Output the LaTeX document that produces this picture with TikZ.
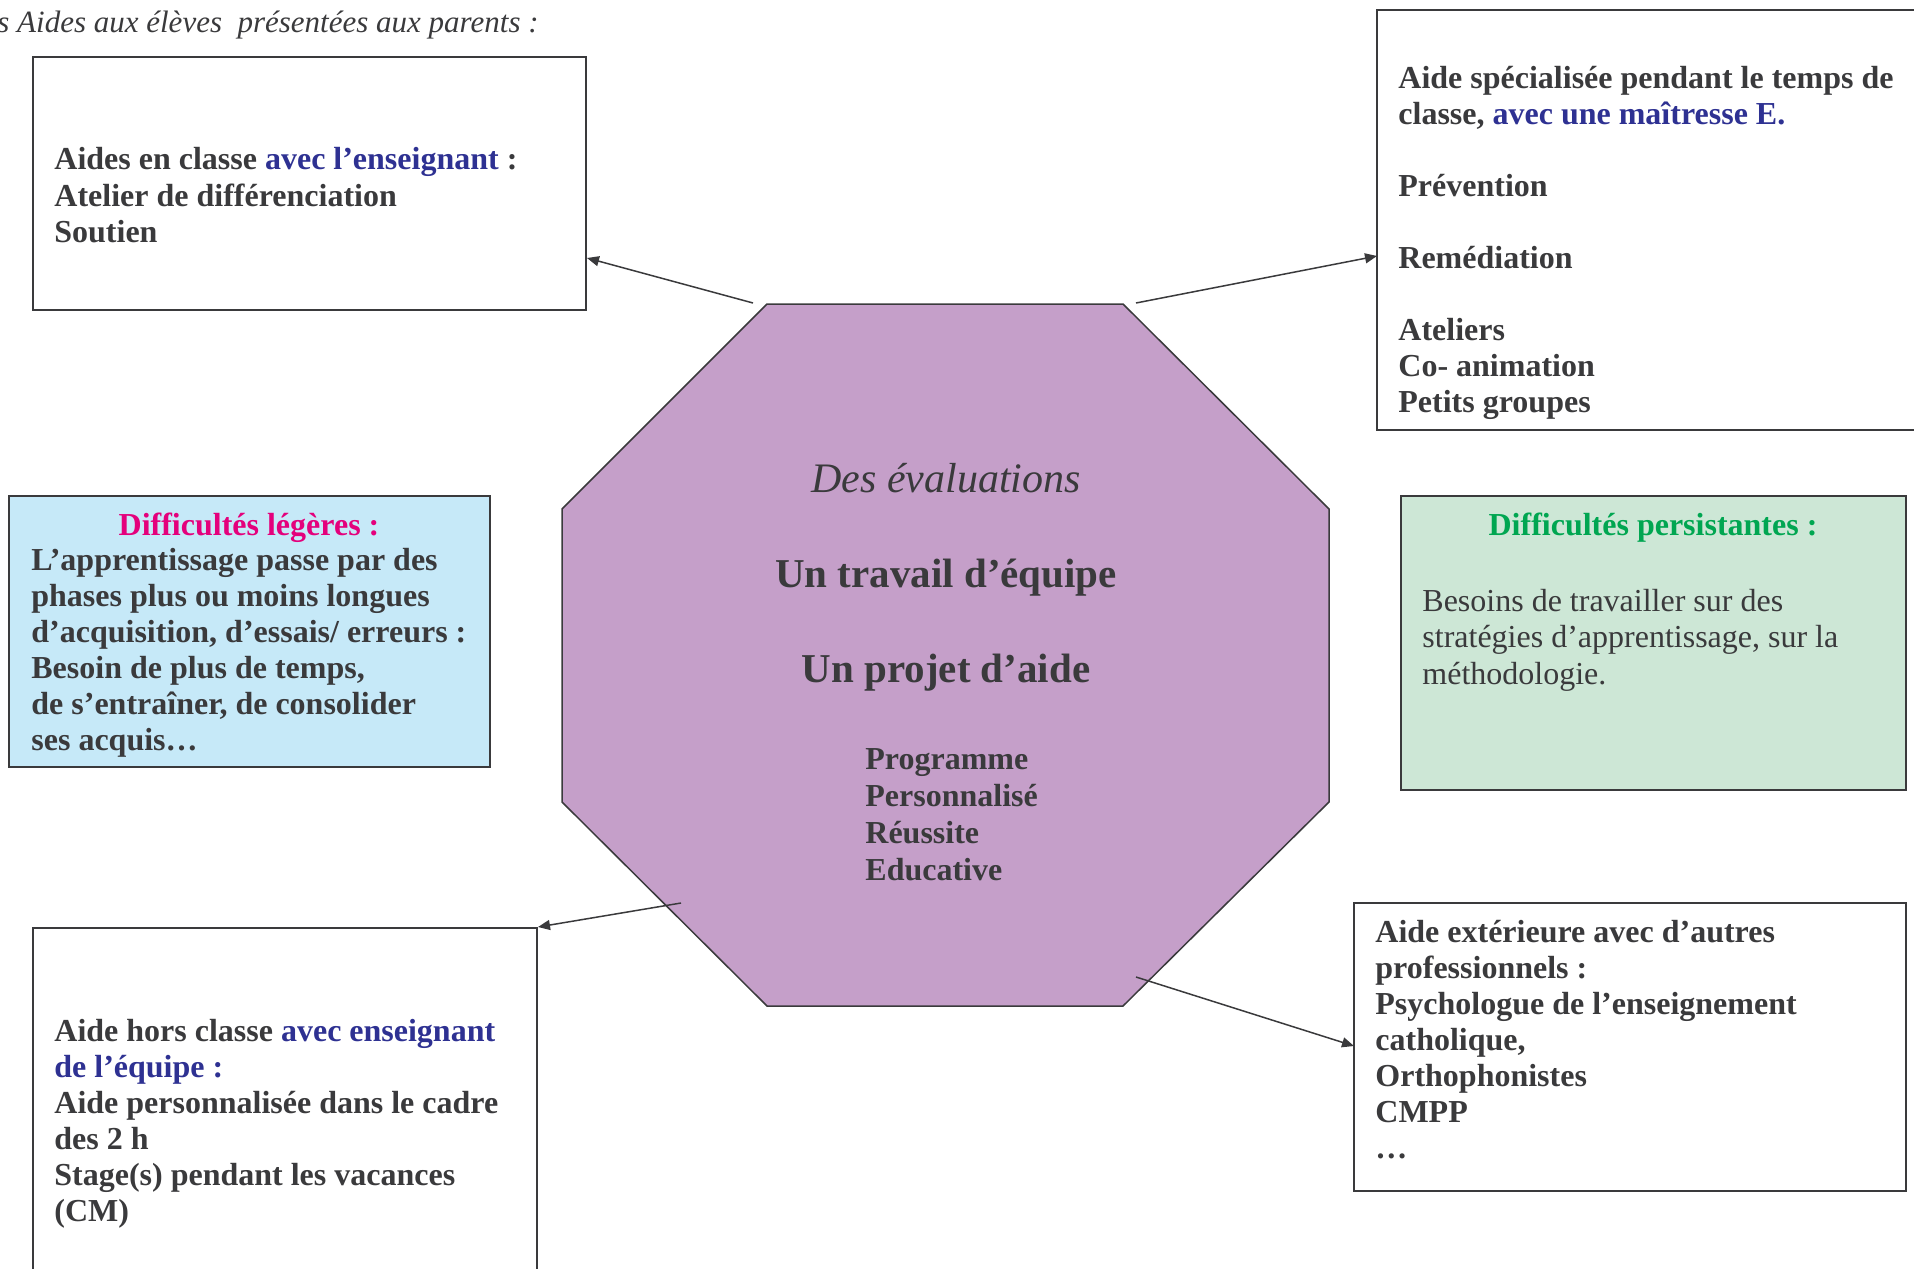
\documentclass[tikz,border=0pt]{standalone}
\usepackage{fontspec}
\setmainfont{Liberation Serif}
\usetikzlibrary{arrows.meta,fit}
\definecolor{txt}{HTML}{3A3A3C}
\definecolor{bluet}{HTML}{2E3192}
\definecolor{pinkt}{HTML}{E4007C}
\definecolor{greent}{HTML}{00A651}
\definecolor{lblue}{HTML}{C6E9F8}
\definecolor{lgreen}{HTML}{CDE7D6}
\definecolor{octc}{HTML}{C59FC9}
\begin{document}
\begin{tikzpicture}[x=0.5pt,y=-0.5pt,
  box/.style={draw=txt,line width=1pt,inner sep=0pt},
  bt/.style={anchor=base west,align=left,inner sep=0pt,text=txt,font=\fontsize{16}{18}\selectfont\bfseries},
  ct/.style={anchor=base,align=center,inner sep=0pt,text=txt},
  arr/.style={draw=txt,line width=0.75pt,-{Triangle[length=6pt,width=5pt]}}]
\useasboundingbox (0,0) rectangle (1914,1268);
% title
\node[anchor=base west,inner sep=0pt,text=txt,font=\fontsize{15.5}{18}\selectfont\itshape] (title) at (-3,32.5) {s Aides aux élèves\ \ présentées aux parents :};
% boxes
\node[box,fit={(33,57) (586,310)}] (tl) {};
\node[box,fit={(1377,10) (1930,430)}] (tr) {};
\node[box,fill=lblue,fit={(9,496) (490,767)}] (lb) {};
\node[box,fill=lgreen,fit={(1401,496) (1906,790)}] (gb) {};
\node[box,fit={(33,928) (537,1290)}] (bl) {};
\node[box,fit={(1354,903) (1906,1191)}] (br) {};
% octagon
\draw[draw=txt,line width=0.75pt,fill=octc] (767,304) coordinate (o1) -- (1123,304) coordinate (o2) -- (1329,509) -- (1329,802) -- (1123,1006) -- (767,1006) -- (562,802) -- (562,509) -- cycle;
% texts (base = baseline of last line)
\node[bt] (tltxt) at (54,242) {Aides en classe \textcolor{bluet}{avec l’enseignant} :\\Atelier de différenciation\\Soutien};
\node[bt] (trtxt) at (1398,412) {Aide spécialisée pendant le temps de\\classe, \textcolor{bluet}{avec une maîtresse E.}\\[18pt]Prévention\\[18pt]Remédiation\\[18pt]Ateliers\\Co- animation\\Petits groupes};
\node[ct,text=pinkt,font=\fontsize{16}{18}\selectfont\bfseries] (lbt) at (249,535) {Difficultés légères :};
\node[bt] (lbtxt) at (31,750) {L’apprentissage passe par des\\phases plus ou moins longues\\d’acquisition, d’essais/ erreurs :\\Besoin de plus de temps,\\de s’entraîner, de consolider\\ses acquis…};
\node[ct,text=greent,font=\fontsize{16}{18}\selectfont\bfseries] (gbt) at (1653,535) {Difficultés persistantes :};
\node[bt,font=\fontsize{16}{18.2}\selectfont] (gbtxt) at (1422,684) {Besoins de travailler sur des\\stratégies d’apprentissage, sur la\\méthodologie.};
\node[ct,font=\fontsize{21}{24}\selectfont\itshape] (c1) at (946,492) {Des évaluations};
\node[ct,font=\fontsize{20.5}{24}\selectfont\bfseries] (c2) at (946,587) {Un travail d’équipe};
\node[ct,font=\fontsize{20.5}{24}\selectfont\bfseries] (c3) at (946,682) {Un projet d’aide};
\node[bt,font=\fontsize{16}{18.5}\selectfont\bfseries] (c4) at (865,880) {Programme\\Personnalisé\\Réussite\\Educative};
\node[bt] (bltxt) at (54,1221) {Aide hors classe \textcolor{bluet}{avec enseignant}\\\textcolor{bluet}{de l’équipe :}\\Aide personnalisée dans le cadre\\des 2 h\\Stage(s) pendant les vacances\\(CM)};
\node[bt] (brtxt) at (1375,1158) {Aide extérieure avec d’autres\\professionnels :\\Psychologue de l’enseignement\\catholique,\\Orthophonistes\\CMPP\\…};
% arrows
\coordinate (s1) at (753,303); \coordinate (e1) at (587,258);
\coordinate (s2) at (1136,303); \coordinate (e2) at (1377,256);
\coordinate (s3) at (681,903); \coordinate (e3) at (538,927);
\coordinate (s4) at (1136,977); \coordinate (e4) at (1354,1046);
\draw[arr] (s1) -- (e1);
\draw[arr] (s2) -- (e2);
\draw[arr] (s3) -- (e3);
\draw[arr] (s4) -- (e4);
\end{tikzpicture}
\end{document}
